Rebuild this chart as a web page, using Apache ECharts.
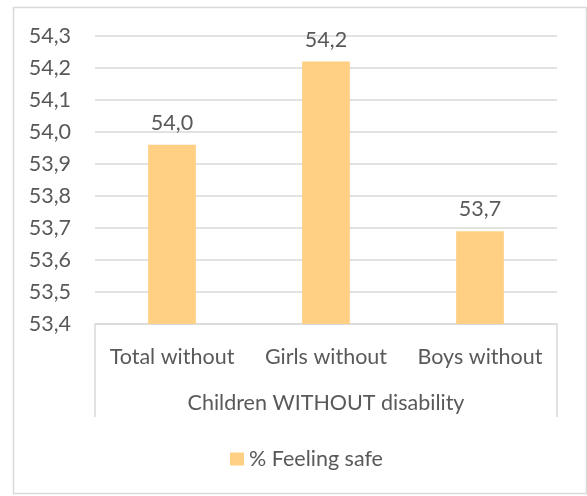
<!DOCTYPE html>
<html>
<head>
<meta charset="utf-8">
<script src="https://cdn.jsdelivr.net/npm/echarts@6/dist/echarts.min.js"></script>
<style>
html,body{margin:0;padding:0;background:#fff;}
#c{width:587px;height:496px;}
</style>
</head>
<body>
<div id="c"></div>
<script>
const categories = ['Total without', 'Girls without', 'Boys without'];
const feelingSafe = [53.96, 54.22, 53.69];
const seriesName = '% Feeling safe';
const groupLabel = 'Children WITHOUT disability';
const yMin = 53.4, yMax = 54.3, yStep = 0.1;

const FONT = 'Lato';
const TXT = '#595959';
const FS = 21.5;
const fmt = v => v.toFixed(1).replace('.', ',');

const chart = echarts.init(document.getElementById('c'), null, {renderer: 'canvas'});
chart.setOption({
  animation: false,
  textStyle: {fontFamily: FONT},
  graphic: [{
    type: 'rect', left: 11, top: 5, silent: true,
    shape: {width: 573, height: 486},
    style: {fill: 'none', stroke: '#D9D9D9', lineWidth: 1.5}
  }],
  legend: {
    left: 225, top: 443,
    itemWidth: 14, itemHeight: 13, itemGap: 6,
    icon: 'rect',
    textStyle: {color: TXT, fontSize: FS, fontFamily: FONT},
    data: [seriesName]
  },
  grid: {left: 95, right: 30, top: 36, bottom: 172, containLabel: false},
  xAxis: [{
    type: 'category',
    data: categories,
    axisLine: {show: true, lineStyle: {color: '#D9D9D9', width: 1.5}},
    axisTick: {show: false},
    axisLabel: {color: TXT, fontSize: FS, margin: 22, fontFamily: FONT, interval: 0, hideOverlap: false},
    name: groupLabel,
    nameLocation: 'middle',
    nameGap: 68,
    nameTextStyle: {color: TXT, fontSize: FS, fontFamily: FONT}
  }, {
    type: 'value', min: 0, max: 1, interval: 1, position: 'bottom',
    axisLine: {show: false},
    axisTick: {show: true, length: 93, lineStyle: {color: '#D9D9D9', width: 1.5}},
    axisLabel: {show: false},
    splitLine: {show: false}
  }],
  yAxis: {
    type: 'value',
    min: yMin, max: yMax, interval: yStep,
    axisLine: {show: false},
    axisTick: {show: false},
    axisLabel: {color: TXT, fontSize: FS, margin: 24, fontFamily: FONT, formatter: fmt},
    splitLine: {lineStyle: {color: '#D9D9D9', width: 1.5}}
  },
  series: [{
    name: seriesName,
    type: 'bar',
    xAxisIndex: 0,
    data: feelingSafe,
    barWidth: '31%',
    itemStyle: {color: '#FFD084'},
    label: {show: true, position: 'top', distance: 11, color: TXT, fontSize: FS, fontFamily: FONT,
      formatter: p => fmt(p.value)}
  }]
});
</script>
</body>
</html>
